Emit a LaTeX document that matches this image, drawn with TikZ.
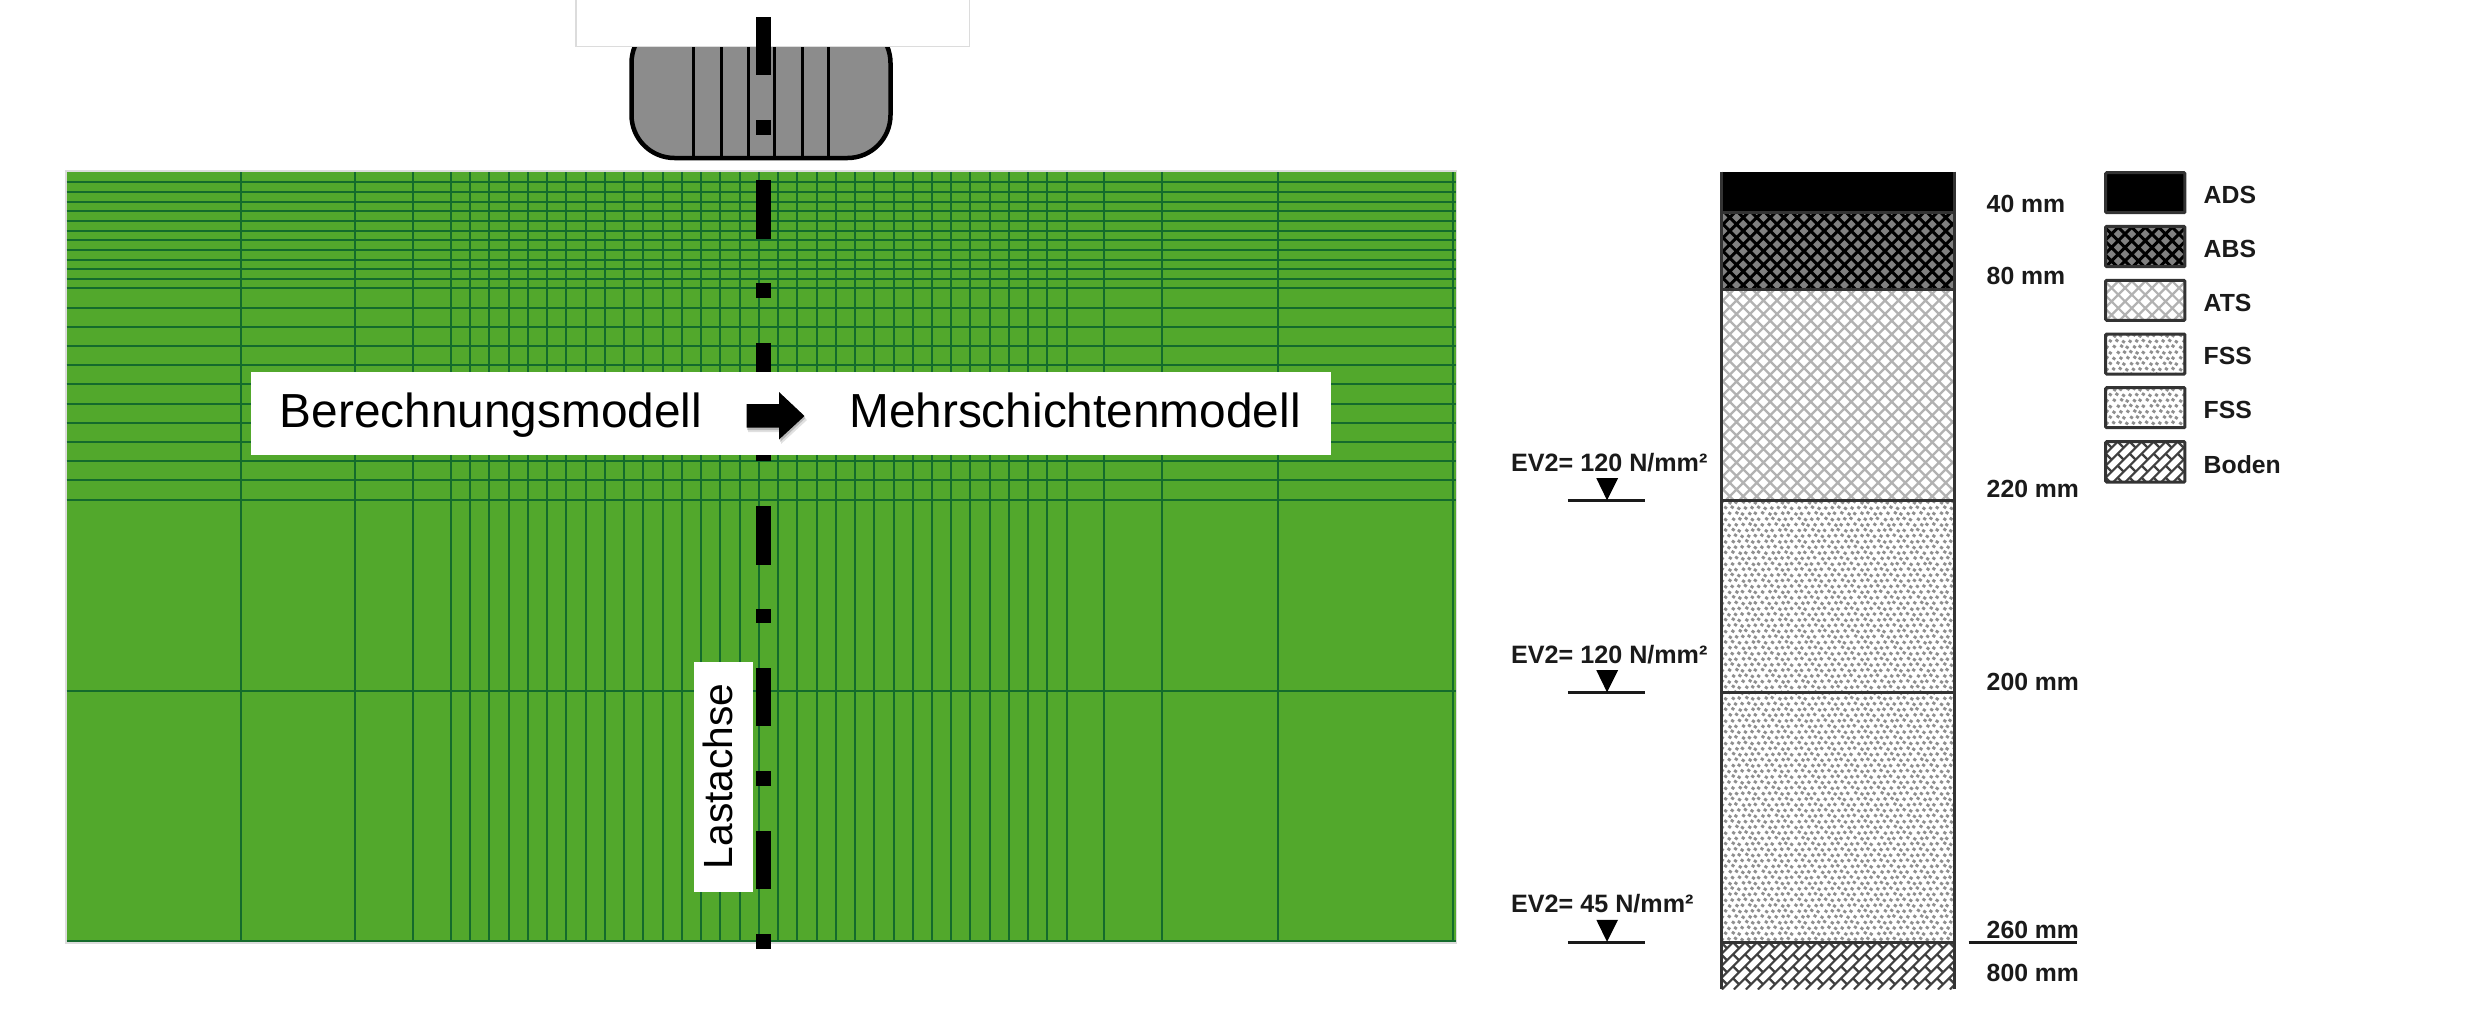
\documentclass[tikz,border=0pt]{standalone}
\usepackage{fontspec}
\setmainfont{Liberation Sans}
\definecolor{meshfill}{HTML}{52A82C}
\definecolor{meshline}{HTML}{146B2C}
\definecolor{edgegray}{HTML}{DCDCDC}
\definecolor{tiregray}{HTML}{8C8C8C}
\definecolor{inkdark}{HTML}{1A1A1A}
\definecolor{frameink}{HTML}{333333}
\tikzset{
  px/.style={line width=#1*0.2845pt},
  meshstroke/.style={draw=meshline,px=2},
  axisdash/.style={fill=black,draw=none},
  bigtext/.style={inner sep=0pt,anchor=base west,font=\fontsize{13.6pt}{15pt}\selectfont,text=black},
  axistext/.style={inner sep=0pt,anchor=center,rotate=90,font=\fontsize{11.6pt}{13pt}\selectfont,text=black},
  smalltext/.style={inner sep=0pt,anchor=base west,font=\bfseries\fontsize{7.05pt}{8pt}\selectfont,text=inkdark},
  evtext/.style={inner sep=0pt,anchor=base west,font=\bfseries\fontsize{7.15pt}{9pt}\selectfont,text=inkdark},
  frameline/.style={draw=frameink,px=3},
}
% #1 x0, #2 y0, #3 x1, #4 y1, #5 colour, #6 width px, #7 last multiple
\newcommand\crosshatch[7]{%
  \begin{scope}
    \clip (#1,#2) rectangle (#3,#4);
    \draw[#5,px=#6] foreach \c in {0,...,#7} {
      ({#1+\c*13.5},#2) -- ++({-(#4-#2)},{#4-#2})
      ({#3-\c*13.5},#2) -- ++({#4-#2},{#4-#2})
    };
  \end{scope}}
% #1 x0, #2 y0, #3 x1, #4 y1, #5 rows, #6 columns
\newcommand\stipple[6]{%
  \begin{scope}
    \clip (#1,#2) rectangle (#3,#4);
    \draw[color=black!44,px=2.8] foreach \i in {0,...,#5} { foreach \j in {0,...,#6} {
      ({#1+\j*6.6+mod(\i,2)*3.3+mod(mod(\i,7)*mod(\j,11)*7+\j*3,5)*0.35},{#2+\i*5.6+mod(\i+\j*3,4)*0.4}) -- ++(2.6,1.8)
    } };
  \end{scope}}
% #1 x0, #2 y0, #3 x1, #4 y1, #5 diagonals, #6 ties
\newcommand\soilhatch[6]{%
  \begin{scope}
    \clip (#1,#2) rectangle (#3,#4);
    \draw[color=black!75,px=2.2] foreach \i in {0,...,#5} {
      ({#1+\i*12},#2) -- ++({-(#4-#2)},{#4-#2})
    };
    \draw[color=black!75,px=2.2] foreach \i in {0,...,#5} { foreach \j in {-1,...,#6} {
      ({#1+\i*12-\j*12},{#2+\j*12}) -- ++(6,6)
    } };
  \end{scope}}
\begin{document}
\begin{tikzpicture}[x=0.1mm,y=-0.1mm]
\path[use as bounding box,fill=white] (0,0) rectangle (2480,1029);

% mesh
\fill[edgegray] (65,169.5) rectangle (1456.5,944);
\fill[meshfill] (66.5,172) rectangle (1455.6,942);
\foreach \yy in {182.3,192,201.7,211.3,221,230.6,240.2,249.9,259.5,269.2,278.8,288.4,
  307.6,326.8,346,365.2,384.4,403.6,422.8,442,461.2,480.4,500,691,941} {
  \draw[meshstroke] (66.5,\yy) -- (1455.6,\yy);
}
\foreach \xx in {240.5,355,413,1104,1162,1277.5,1453} {
  \draw[meshstroke] (\xx,172) -- (\xx,942);
}
\foreach \k in {0,...,32} {
  \draw[meshstroke] ({451+\k*19.24},172) -- ({451+\k*19.24},942);
}

% tyre
\draw[fill=tiregray,draw=black,px=4.5,rounded corners=4.3mm]
  (631.5,20) -- (631.5,158) -- (890.5,158) -- (890.5,20) -- cycle;
\foreach \xx in {693.3,721.3,748,774,802.3,828.7} {
  \draw[black,px=3] (\xx,30) -- (\xx,158);
}
\node[draw=edgegray,fill=white,px=1.5,inner sep=0pt,minimum width=39.37mm,minimum height=6mm,anchor=south west] (rimbox) at (575,47) {};

% load axis
\foreach \yy in {16.7,180,343,506,667.7,830.7} {
  \fill[axisdash] (756.2,\yy) rectangle (770.8,{\yy+58.5});
}
\foreach \yy in {120,283,446,608.5,771,934} {
  \fill[axisdash] (756.2,\yy) rectangle (770.8,{\yy+14.7});
}

% Labels over the mesh
\node[fill=white,inner sep=0pt,minimum width=108mm,minimum height=8.33mm,anchor=north west] (titlebox) at (250.6,371) {};
\node[fill=white,inner sep=0pt,minimum width=5.86mm,minimum height=22.93mm,anchor=north west] (axisbox) at (693.7,661.7) {};

% arrow
\fill[black,opacity=.12] (748,409) -- (781,409) -- (781,396) -- (807,420) -- (781,444) -- (781,432) -- (748,432) -- cycle;
\fill[black,opacity=.18] (747,407) -- (780,407) -- (780,394) -- (805.5,418) -- (780,442) -- (780,430) -- (747,430) -- cycle;
\fill[black] (746.5,404) -- (779,404) -- (779,392) -- (804.5,416) -- (779,439.5) -- (779,427.7) -- (746.5,427.7) -- cycle;

\node[bigtext] (berechnung) at (279,427) {Berechnungsmodell};
\node[bigtext] (mehrschicht) at (848.5,427) {Mehrschichtenmodell};
\node[axistext] (lastachse) at (717.5,776.3) {Lastachse};

% layered column
\fill[black] (1721,171.7) rectangle (1954.5,212.7);
\fill[black!50] (1721,212.7) rectangle (1954.5,289);
\crosshatch{1721}{212.7}{1954.5}{289}{black}{3}{30}
\crosshatch{1721}{289}{1954.5}{500.7}{black!30}{2.2}{40}
\stipple{1721}{500.7}{1954.5}{942.3}{80}{36}
\soilhatch{1721}{942.3}{1954.5}{989.3}{30}{5}
\draw[frameline] (1721,171.7) -- (1721,989.3);
\draw[frameline] (1954,171.7) -- (1954,989.3);
\foreach \yy in {212.7,289,500.7,692.7,942.3} {
  \draw[frameline] (1721,\yy) -- (1954,\yy);
}

% legend
\fill[black] (2105.7,172.7) rectangle (2184.9,212.7);
\fill[black!50] (2105.7,226.3) rectangle (2184.9,266.7);
\crosshatch{2105.7}{226.3}{2184.9}{266.7}{black}{3}{11}
\crosshatch{2105.7}{280.3}{2184.9}{320.3}{black!30}{2.2}{11}
\stipple{2105.7}{334}{2184.9}{374}{7}{12}
\stipple{2105.7}{387.7}{2184.9}{427.7}{7}{12}
\soilhatch{2105.7}{441.7}{2184.9}{482}{14}{5}
\foreach \ya/\yb in {172.7/212.7,226.3/266.7,280.3/320.3,334/374,387.7/427.7,441.7/482} {
  \draw[frameline,rounded corners=0.1mm] (2105.7,\ya) rectangle (2184.9,\yb);
}
\node[smalltext] (lgads) at (2203,203) {ADS};
\node[smalltext] (lgabs) at (2203,257) {ABS};
\node[smalltext] (lgats) at (2203,311) {ATS};
\node[smalltext] (lgfssa) at (2203,364.5) {FSS};
\node[smalltext] (lgfssb) at (2203,418.5) {FSS};
\node[smalltext] (lgboden) at (2203,473) {Boden};

% thicknesses
\node[smalltext] (thka) at (1986,212) {40 mm};
\node[smalltext] (thkb) at (1986,284.5) {80 mm};
\node[smalltext] (thkc) at (1986,497) {220 mm};
\node[smalltext] (thkd) at (1986,690) {200 mm};
\node[smalltext] (thke) at (1986,938.5) {260 mm};
\node[smalltext] (thkf) at (1986,981) {800 mm};
\draw[inkdark,px=2.6] (1968.6,942.3) -- (2076.7,942.3);

% bearing capacity marks
\node[evtext] (eva) at (1510.5,471) {EV2= 120 N/mm²};
\node[evtext] (evb) at (1510.5,663) {EV2= 120 N/mm²};
\node[evtext] (evc) at (1510.5,912.5) {EV2= 45 N/mm²};
\foreach \yy in {500.7,692.7,942.3} {
  \draw[inkdark,px=2.6] (1567.8,\yy) -- (1645.3,\yy);
  \fill[black] (1596.3,{\yy-22.5}) -- (1618,{\yy-22.5}) -- (1607,{\yy-0.5}) -- cycle;
}
\end{tikzpicture}
\end{document}
